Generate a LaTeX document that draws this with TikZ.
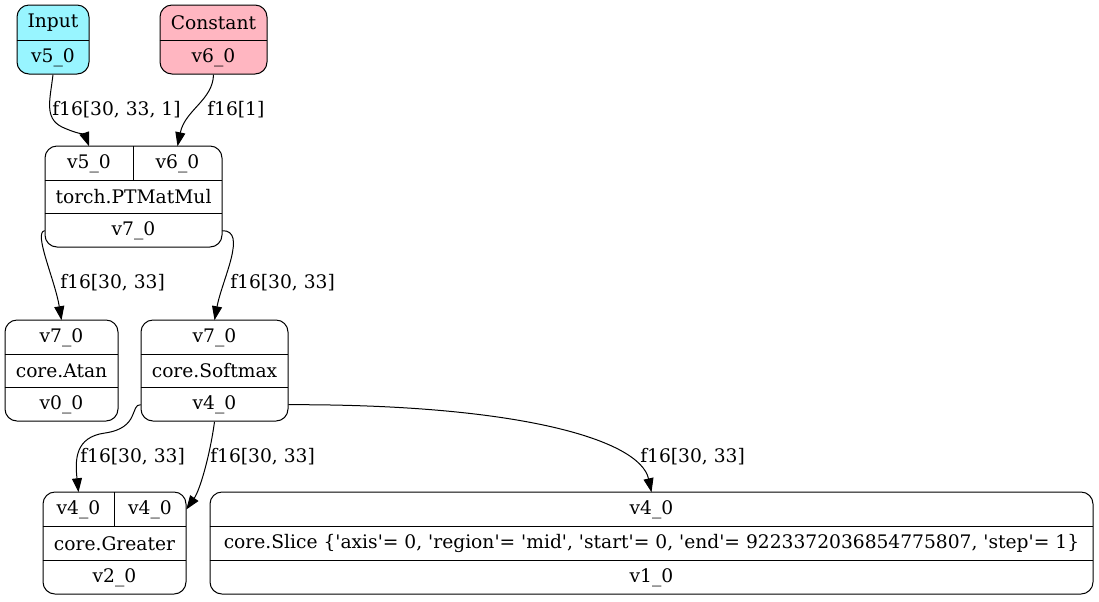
\documentclass[tikz,border=0pt]{standalone}
\usepackage{fontspec}
\setmainfont{DejaVu Serif}
\usetikzlibrary{arrows.meta}
\definecolor{inputfill}{HTML}{98F5FF}
\definecolor{constfill}{HTML}{FFB6C1}
\newcommand{\sq}{\textquotesingle}

\begin{document}
\begin{tikzpicture}
[x=0.75pt,y=-0.75pt,>={Triangle[length=10.5pt,width=7.5pt]},
 rec/.style={draw,rounded corners=9pt,inner sep=0pt,line width=0.75pt},
 cell/.style={inner sep=0pt,minimum height=25.25pt,font=\fontsize{14}{16}\selectfont},
 lbl/.style={anchor=west,inner sep=0pt,font=\fontsize{14}{16}\selectfont},
 edge/.style={->,line width=0.75pt},]

\useasboundingbox (0,0) rectangle (1099,601);

%Input and Constant
\node (in) at (53,39.5)[rec,fill=inputfill,minimum width=54pt,minimum height=51.75pt] {};
\node (in-t) at (53,23)[cell,minimum width=54pt] {Input};
\node (in-v) at (53,57.5)[cell,minimum width=54pt] {v5\_0};
\draw (in-v.north west) -- (in-v.north east);

\node (c) at (213.5,39.5)[rec,fill=constfill,minimum width=80.25pt,minimum height=51.75pt] {};
\node (c-t) at (213.5,23)[cell,minimum width=80.25pt] {Constant};
\node (c-v) at (213.5,57.5)[cell,minimum width=80.25pt] {v6\_0};
\draw (c-v.north west) -- (c-v.north east);

%MatMul
\node (mm) at (133.5,196.5)[rec,minimum width=132.75pt,minimum height=75.75pt] {};
\node (mm-a) at (89,163.3)[cell,minimum width=66pt] {v5\_0};
\node (mm-b) at (177.5,163.3)[cell,minimum width=66.75pt] {v6\_0};
\node (mm-op) at (133.5,197)[cell,minimum width=132.75pt] {torch.PTMatMul};
\node (mm-out) at (133.5,230.7)[cell,minimum width=132.75pt] {v7\_0};
\draw (mm-a.north east) -- (mm-a.south east);
\draw (mm-op.north west) -- (mm-op.north east);
\draw (mm-out.north west) -- (mm-out.north east);

%Atan and Softmax
\node (at) at (61.5,370.5)[rec,minimum width=84.75pt,minimum height=75.75pt] {};
\node (at-in) at (61.5,337.3)[cell,minimum width=84.75pt] {v7\_0};
\node (at-op) at (61.5,371)[cell,minimum width=84.75pt] {core.Atan};
\node (at-out) at (61.5,404.7)[cell,minimum width=84.75pt] {v0\_0};
\draw (at-op.north west) -- (at-op.north east);
\draw (at-out.north west) -- (at-out.north east);

\node (sm) at (214.5,370.5)[rec,minimum width=110.25pt,minimum height=75.75pt] {};
\node (sm-in) at (214.5,337.3)[cell,minimum width=110.25pt] {v7\_0};
\node (sm-op) at (214.5,371)[cell,minimum width=110.25pt] {core.Softmax};
\node (sm-out) at (214.5,404.7)[cell,minimum width=110.25pt] {v4\_0};
\draw (sm-op.north west) -- (sm-op.north east);
\draw (sm-out.north west) -- (sm-out.north east);

%Greater and Slice
\node (g) at (114.5,543)[rec,minimum width=107.25pt,minimum height=76.5pt] {};
\node (g-a) at (78.5,509.5)[cell,minimum width=53.25pt,minimum height=25.5pt] {v4\_0};
\node (g-b) at (150,509.5)[cell,minimum width=54pt,minimum height=25.5pt] {v4\_0};
\node (g-op) at (114.5,543.5)[cell,minimum width=107.25pt,minimum height=25.5pt] {core.Greater};
\node (g-out) at (114.5,577.5)[cell,minimum width=107.25pt,minimum height=25.5pt] {v2\_0};
\draw (g-a.north east) -- (g-a.south east);
\draw (g-op.north west) -- (g-op.north east);
\draw (g-out.north west) -- (g-out.north east);

\node (sl) at (651.5,543)[rec,minimum width=662.25pt,minimum height=76.5pt] {};
\node (sl-in) at (651.5,509.5)[cell,minimum width=662.25pt,minimum height=25.5pt] {v4\_0};
\node (sl-op) at (651.5,543.5)[cell,minimum width=662.25pt,minimum height=25.5pt] {core.Slice \{\sq axis\sq= 0, \sq region\sq= \sq mid\sq, \sq start\sq= 0, \sq end\sq= 9223372036854775807, \sq step\sq= 1\}};
\node (sl-out) at (651.5,577.5)[cell,minimum width=662.25pt,minimum height=25.5pt] {v1\_0};
\draw (sl-op.north west) -- (sl-op.north east);
\draw (sl-out.north west) -- (sl-out.north east);

%Edges
\draw[edge] (in-v.south) .. controls (50,100) and (44,118) .. (62,127) .. controls (75,133) and (85,135) .. (mm-a.north);
\draw[edge] (c-v.south) .. controls (213,100) and (185,110) .. (mm-b.north);
\draw[edge] (mm-out.west) .. controls (33,232) and (55,280) .. (at-in.north);
\draw[edge] (mm-out.east) .. controls (248,230) and (222,280) .. (sm-in.north);
\draw[edge] (sm-out.west) .. controls (130,404) and (140,428) .. (105,433) .. controls (75,437) and (75,460) .. (g-a.north);
\draw[edge] (sm-out.south) .. controls (210,455) and (200,490) .. (g-b.east);
\draw[edge] (sm-out.east) .. controls (520,404) and (640,440) .. (sl-in.north);

%Edge labels
\node (l-in) at (52,110)[lbl] {f16[30, 33, 1]};
\node (l-c) at (207,110)[lbl] {f16[1]};
\node (l-at) at (60,283)[lbl] {f16[30, 33]};
\node (l-sm) at (230,283)[lbl] {f16[30, 33]};
\node (l-ga) at (80,457)[lbl] {f16[30, 33]};
\node (l-gb) at (210,457)[lbl] {f16[30, 33]};
\node (l-sl) at (640,457)[lbl] {f16[30, 33]};

\end{tikzpicture}
\end{document}
